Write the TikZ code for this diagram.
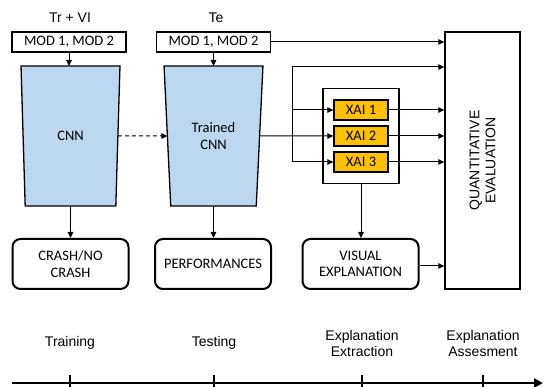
\documentclass[tikz,border=0pt]{standalone}
\usepackage{fontspec}
\setmainfont{Carlito}
\newfontfamily\phasefont{Liberation Sans}
\usetikzlibrary{arrows.meta, calc, positioning, shapes.geometric}
\definecolor{netblue}{HTML}{BDD7EE}
\definecolor{xaiorange}{HTML}{FFC000}

\begin{document}
\begin{tikzpicture}[
    x=1pt, y=-1pt,
    font=\fontsize{14.5}{16.5}\selectfont,
    data/.style={draw=black, line width=1.3pt, inner sep=0pt, outer sep=0pt,
        minimum width=114pt, minimum height=20pt},
    net/.style={trapezium, trapezium stretches=true, trapezium angle=82.7,
        shape border rotate=180, draw=black, line width=1.3pt, fill=netblue,
        align=center, inner sep=0pt, outer sep=0pt,
        minimum width=99pt, minimum height=140pt},
    result/.style={draw=black, line width=2pt, rounded corners=8pt, align=center,
        inner sep=0pt, minimum width=116pt, minimum height=50pt},
    xai/.style={draw=black, line width=1.3pt, fill=xaiorange, inner sep=0pt,
        minimum width=54pt, minimum height=20pt},
    panel/.style={draw=black, line width=1.3pt, inner sep=0pt,
        minimum width=76pt, minimum height=95pt},
    evalbox/.style={draw=black, line width=1.5pt, inner sep=0pt,
        minimum width=75pt, minimum height=257pt},
    flow/.style={-{Triangle[length=6pt, width=5.5pt]}, line width=1pt, black},
    link/.style={line width=1pt, black},
    phase/.style={font=\phasefont\fontsize{14}{16}\selectfont, align=center},
    axis/.style={-{Triangle[length=9pt, width=9pt]}, line width=2.8pt},
    tick/.style={line width=1.7pt}
]
\useasboundingbox (0,0) rectangle (544,387);

% inputs and networks
\node[phase] (trlab) at (70,18) {Tr + VI};
\node[phase] (telab) at (216,18) {Te};
\node[data] (mod1) at (69,42) {MOD 1, MOD 2};
\node[data] (mod2) at (213.5,42) {MOD 1, MOD 2};
\node[net] (cnn1) at (70.5,136) {CNN};
\node[net] (cnn2) at (213.5,136) {Trained\\CNN};

% explanation block
\node[panel] (xaiset) at (361,136) {};
\node[xai] (xai1) at (361,110) {XAI 1};
\node[xai] (xai2) at (361,136) {XAI 2};
\node[xai] (xai3) at (361,162) {XAI 3};
\node[evalbox] (quant) at (482.5,160.5) {};
\node[phase, rotate=90] (quanttext) at (quant.center) {QUANTITATIVE\\EVALUATION};

% outputs
\node[result] (crash) at (70.5,264) {CRASH/NO\\CRASH};
\node[result] (perf) at (213,264) {PERFORMANCES};
\node[result] (visual) at (360.5,264) {VISUAL\\EXPLANATION};

\draw[flow] (mod1.south) -- (mod1.south |- cnn1.north);
\draw[flow] (mod2.south) -- (mod2.south |- cnn2.north);
\draw[flow, dashed, dash pattern=on 4pt off 3pt] (cnn1.east) -- (cnn2.west);
\draw[flow] (cnn1.south) -- (cnn1.south |- crash.north);
\draw[flow] (cnn2.south) -- (cnn2.south |- perf.north);
\draw[flow] (mod2.east) -- (mod2.east -| quant.west);

\coordinate (ftop) at (292,67);
\coordinate (fbot) at (ftop |- xai3.west);
\draw[flow] (cnn2.east) -- (xai2.west);
\draw[link] (ftop) -- (fbot);
\draw[flow] (ftop) -- (ftop -| quant.west);
\draw[flow] (ftop |- xai1.west) -- (xai1.west);
\draw[flow] (fbot) -- (xai3.west);
\foreach \k in {1,2,3}
    \draw[flow] (xai\k.east) -- (xai\k.east -| quant.west);
\draw[flow] (xaiset.south) -- (xaiset.south |- visual.north);
\draw[flow] ($(visual.east)+(0,2)$) -- ($(visual.east -| quant.west)+(0,2)$);

% timeline
\node[phase] (train) at (70,343) {Training};
\node[phase] (test) at (214,343) {Testing};
\node[phase] (extr) at (362,343) {Explanation\\Extraction};
\node[phase] (asse) at (483,343) {Explanation\\Assesment};
\coordinate (tstart) at (12,383);
\coordinate (tend) at (543,383);
\draw[axis] (tstart) -- (tend);
\foreach \p in {train,test,extr,asse}
    \draw[tick] (\p |- tstart) ++(0,-8) -- ++(0,16);
\end{tikzpicture}
\end{document}
